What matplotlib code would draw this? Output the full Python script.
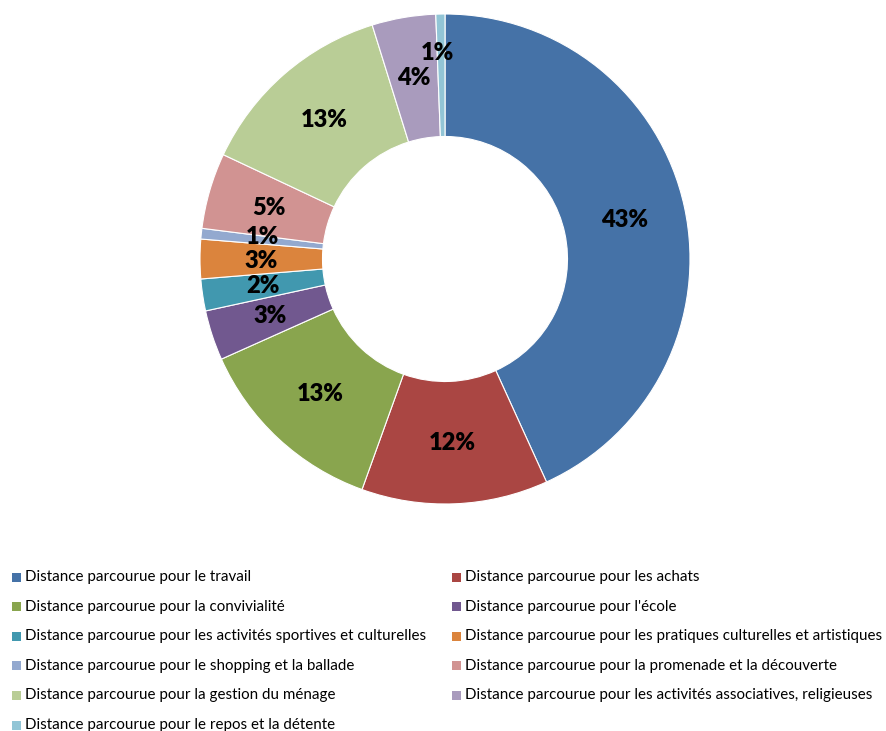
import numpy as np
import matplotlib.pyplot as plt
from matplotlib.patches import Rectangle

# share of distance by purpose (%), clockwise from 12 o'clock
labels = [
    'Distance parcourue pour le travail',
    'Distance parcourue pour les achats',
    'Distance parcourue pour la convivialité',
    "Distance parcourue pour l'école",
    'Distance parcourue pour les activités sportives et culturelles',
    'Distance parcourue pour les pratiques culturelles et artistiques',
    'Distance parcourue pour le shopping et la ballade',
    'Distance parcourue pour la promenade et la découverte',
    'Distance parcourue pour la gestion du ménage',
    'Distance parcourue pour les activités associatives, religieuses',
    'Distance parcourue pour le repos et la détente',
]
values = [43.2, 12.3, 12.8, 3.3, 2.1, 2.6, 0.7, 5.0, 13.2, 4.2, 0.6]
colors = ['#4572A7', '#AA4643', '#89A54E', '#71588F', '#4198AF', '#DB843D',
          '#93A9CF', '#D19392', '#B9CD96', '#A99BBD', '#92C5D6']

W, H = 886, 731
fig = plt.figure(figsize=(W / 100, H / 100), dpi=100)

# pie centre (445, 259) px, radius 245 px
cx, cy, r = 445, 259, 245
ax = fig.add_axes([(cx - r) / W, (H - cy - r) / H, 2 * r / W, 2 * r / H])

wedges, texts, autotexts = ax.pie(
    values, colors=colors, startangle=90, counterclock=False, radius=1,
    wedgeprops=dict(width=0.5, edgecolor='white', linewidth=0.8),
    autopct=lambda p: f'{round(p)}%', pctdistance=0.75,
    textprops=dict(family='Lato', fontsize=17, fontweight='heavy', color='black'))

# last tiny slice label pushed outward to avoid overlap (like Excel)
w = wedges[-1]
ang = np.deg2rad((w.theta1 + w.theta2) / 2)
autotexts[-1].set_position((0.84 * np.cos(ang) - 0.015, 0.84 * np.sin(ang)))

# small nudge so the crowded left labels don't collide
x, y = autotexts[6].get_position()
autotexts[6].set_position((x, y + 0.012))
x, y = autotexts[5].get_position()
autotexts[5].set_position((x, y - 0.008))

ax.set_xlim(-1, 1)
ax.set_ylim(-1, 1)
ax.set_aspect('equal')
ax.axis('off')

# legend, two columns, row-major like the original
for i, (lab, col) in enumerate(zip(labels, colors)):
    row, c = i // 2, i % 2
    x0 = 12 if c == 0 else 452
    y0 = 577 + row * 29.6
    fig.patches.append(Rectangle(((x0) / W, 1 - (y0 + 4.5) / H), 9 / W, 9 / H,
                                 transform=fig.transFigure, facecolor=col,
                                 edgecolor='none'))
    fig.text((x0 + 13) / W, 1 - y0 / H, lab, family='Lato', fontsize=10.9,
             color='black', va='center', ha='left')

fig.savefig('out.png', dpi=100)
